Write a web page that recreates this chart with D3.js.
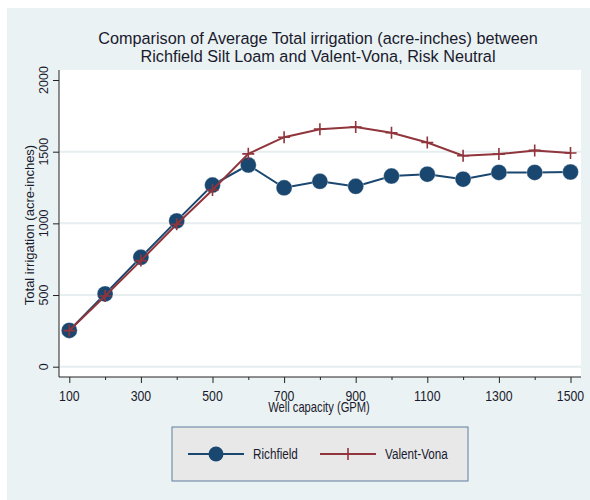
<!DOCTYPE html>
<html>
<head>
<meta charset="utf-8">
<script src="https://cdn.jsdelivr.net/npm/d3@7"></script>
<style>
  body { margin: 0; background: #fff; }
  text { font-family: "Liberation Sans", Arial, sans-serif; fill: #1a1a2e; }
</style>
</head>
<body>
<div id="chart"></div>
<script>
// Data
const wellCapacity = [100, 200, 300, 400, 500, 600, 700, 800, 900, 1000, 1100, 1200, 1300, 1400, 1500];
const richfield = [253, 508, 763, 1017, 1267, 1407, 1248, 1293, 1258, 1330, 1343, 1308, 1355, 1355, 1358];
const valentVona = [252, 493, 740, 994, 1233, 1485, 1601, 1657, 1672, 1632, 1564, 1472, 1483, 1509, 1491];
const xTickLabels = [100, 300, 500, 700, 900, 1100, 1300, 1500];
const yTicks = [0, 500, 1000, 1500, 2000];
const titleLines = ["Comparison of Average Total irrigation (acre-inches) between",
                    "Richfield Silt Loam and Valent-Vona, Risk Neutral"];

const W = 590, H = 500;
const plot = { left: 59, right: 581, top: 70, bottom: 377 };
const navy = "#1a476f", maroon = "#90353b";

const svg = d3.select("#chart").append("svg")
  .attr("width", W).attr("height", H);

// outer graph region
svg.append("rect")
  .attr("x", 7).attr("y", 8)
  .attr("width", W - 7).attr("height", H - 8)
  .attr("fill", "#eaf2f3");

// plot region
svg.append("rect")
  .attr("x", plot.left).attr("y", plot.top)
  .attr("width", plot.right - plot.left).attr("height", plot.bottom - plot.top)
  .attr("fill", "#fff");

const x = d3.scaleLinear().domain([100, 1500]).range([69.3, 570.5]);
const y = d3.scaleLinear().domain([0, 2000]).range([366.7, 80]);

// text helper, sx squeezes the glyphs (some labels use a narrow face)
function label(g, txt, px, py, size, anchor, rot, sx) {
  return g.append("text")
    .attr("transform", `translate(${px},${py}) rotate(${rot || 0}) scale(${sx || 1},1)`)
    .attr("text-anchor", anchor || "middle")
    .style("font-size", size + "px")
    .text(txt);
}

// grid lines
svg.append("g").selectAll("line")
  .data(yTicks.filter(d => d < 2000))
  .enter().append("line")
  .attr("x1", plot.left + 1).attr("x2", plot.right)
  .attr("y1", d => y(d)).attr("y2", d => y(d))
  .attr("stroke", "#e6eef0").attr("stroke-width", 2);

// y axis
const yAxis = svg.append("g")
  .attr("transform", `translate(${plot.left},0)`)
  .call(d3.axisLeft(y).tickValues(yTicks).tickSize(6).tickFormat(""));
yAxis.select(".domain").attr("d", `M0,${plot.top}V${plot.bottom}`).attr("stroke", "#222");
yAxis.selectAll(".tick line").attr("stroke", "#222");
yTicks.forEach(v => label(svg, v, 48, y(v), 12.5, "middle", -90));

// x axis
const xAxis = svg.append("g")
  .attr("transform", `translate(0,${plot.bottom})`)
  .call(d3.axisBottom(x).tickValues(wellCapacity).tickSize(3).tickFormat(""));
xAxis.select(".domain").attr("d", `M${plot.left},0H${plot.right}`).attr("stroke", "#222");
xAxis.selectAll(".tick line")
  .attr("stroke", "#222")
  .attr("y2", d => xTickLabels.includes(d) ? 6 : 3);
xTickLabels.forEach(v => label(svg, v, x(v), 401, 15, "middle", 0, 0.82));

// axis titles
label(svg, "Well capacity (GPM)", 319, 412, 14, "middle", 0, 0.8);
label(svg, "Total irrigation (acre-inches)", 34, 225, 13, "middle", -90);

// title
titleLines.forEach((t, i) => label(svg, t, 318, 44 + i * 18, 17, "middle", 0, 0.955));

// series
const line = d3.line().x(d => x(d[0])).y(d => y(d[1]));
const rich = wellCapacity.map((w, i) => [w, richfield[i]]);
const valent = wellCapacity.map((w, i) => [w, valentVona[i]]);

svg.append("path").datum(rich)
  .attr("fill", "none").attr("stroke", navy).attr("stroke-width", 2)
  .attr("d", line);
svg.selectAll(".rdot").data(rich).enter().append("circle")
  .attr("cx", d => x(d[0])).attr("cy", d => y(d[1]))
  .attr("r", 8).attr("fill", navy)
  .attr("stroke", "#fff").attr("stroke-opacity", 0.6).attr("stroke-width", 0.6);

svg.append("path").datum(valent)
  .attr("fill", "none").attr("stroke", maroon).attr("stroke-width", 2)
  .attr("d", line);
svg.selectAll(".vplus").data(valent).enter().append("path")
  .attr("transform", d => `translate(${x(d[0])},${y(d[1])})`)
  .attr("d", "M-6,0H6M0,-6V6")
  .attr("stroke", maroon).attr("stroke-width", 1.6).attr("fill", "none");

// legend
const legend = svg.append("g");
legend.append("rect")
  .attr("x", 172).attr("y", 427).attr("width", 296).attr("height", 54)
  .attr("fill", "#e8e8e8").attr("stroke", "#5f7f9f").attr("stroke-width", 1);
legend.append("line")
  .attr("x1", 188).attr("x2", 244).attr("y1", 454).attr("y2", 454)
  .attr("stroke", navy).attr("stroke-width", 2);
legend.append("circle").attr("cx", 216).attr("cy", 454).attr("r", 7.5).attr("fill", navy);
label(legend, "Richfield", 253, 459, 15, "start", 0, 0.78);
legend.append("line")
  .attr("x1", 320).attr("x2", 376).attr("y1", 454).attr("y2", 454)
  .attr("stroke", maroon).attr("stroke-width", 2);
legend.append("path")
  .attr("transform", "translate(348,454)")
  .attr("d", "M0,-6V6")
  .attr("stroke", maroon).attr("stroke-width", 1.6);
label(legend, "Valent-Vona", 385, 459, 15, "start", 0, 0.78);
</script>
</body>
</html>
